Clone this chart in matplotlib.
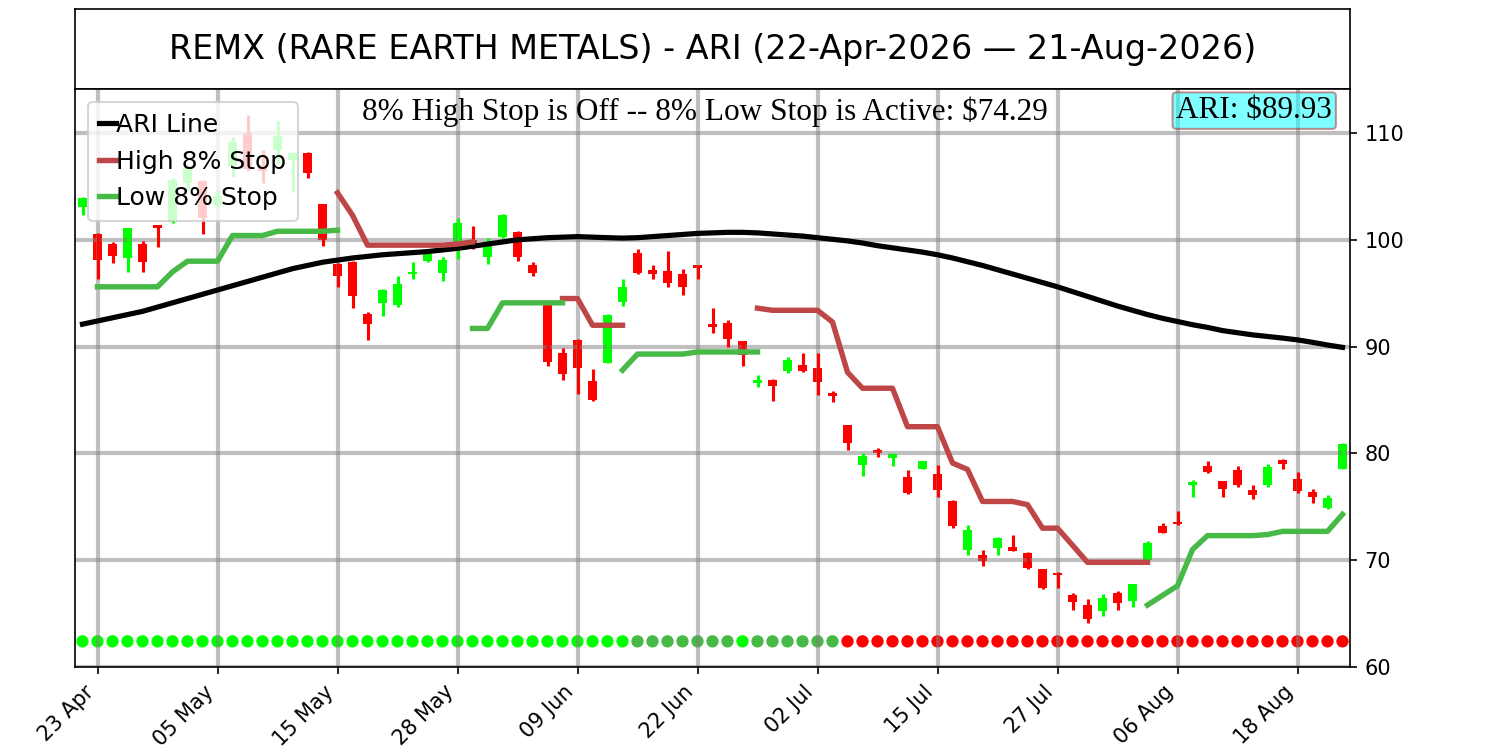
import numpy as np
import pandas as pd
import matplotlib
matplotlib.use('Agg')
import matplotlib.pyplot as plt

nan = np.nan

"""
Data read off the reference chart (one value per trading day)
"""
holidays = ['2026-05-25', '2026-06-19', '2026-07-03']
dates = pd.bdate_range('2026-04-22', '2026-08-21', freq='C', holidays=holidays)

opens = [103.1, 100.5, 99.6, 98.3, 99.6, 101.4, 101.7, 105.3, 105.5, 103.3,
         106.9, 110.0, 107.0, 108.4, 107.5, 108.1, 103.4, 97.7, 97.9, 93.1,
         94.1, 93.9, 96.8, 98.0, 96.9, 99.8, 100.0, 98.4, 100.3, 100.7,
         97.6, 94.1, 89.4, 90.6, 86.8, 88.5, 94.2, 98.8, 97.2, 97.1,
         96.8, 97.6, 92.1, 92.2, 90.5, 86.6, 86.9, 87.7, 88.3, 88.0,
         85.7, 82.7, 78.9, 80.3, 79.6, 77.8, 78.5, 78.1, 75.5, 71.0,
         70.5, 71.1, 71.2, 70.7, 69.2, 68.8, 66.7, 65.8, 65.2, 66.9,
         66.2, 70.0, 73.2, 73.6, 77.0, 78.8, 77.4, 78.4, 76.6, 77.0,
         79.4, 77.6, 76.4, 74.9, 78.5]
highs = [104.0, 100.6, 99.8, 101.1, 99.9, 101.4, 105.8, 107.0, 105.6, 104.7,
         109.6, 111.7, 108.4, 111.1, 108.2, 108.2, 103.4, 97.8, 98.0, 93.2,
         95.4, 96.6, 97.9, 99.1, 98.4, 102.0, 101.3, 100.2, 102.4, 100.8,
         97.9, 94.2, 89.9, 90.7, 87.9, 93.1, 96.3, 99.1, 97.6, 99.0,
         97.3, 97.6, 93.6, 92.5, 90.5, 87.3, 87.0, 89.0, 89.4, 89.4,
         85.8, 82.7, 80.0, 80.5, 80.0, 78.4, 79.3, 78.9, 75.6, 73.3,
         71.0, 72.2, 72.4, 70.8, 69.2, 68.9, 66.9, 66.4, 66.8, 67.1,
         67.8, 71.8, 73.5, 74.6, 77.5, 79.3, 77.4, 78.8, 77.0, 79.0,
         79.5, 78.3, 76.7, 76.1, 81.0]
lows = [102.3, 96.3, 97.8, 97.0, 97.0, 99.3, 101.6, 104.7, 100.5, 103.1,
        105.9, 106.4, 105.3, 107.2, 104.5, 105.8, 99.4, 95.6, 93.6, 90.6,
        92.9, 93.7, 96.3, 97.9, 96.1, 98.2, 99.1, 97.7, 100.2, 98.0,
        96.6, 88.2, 86.9, 85.6, 84.9, 88.5, 93.8, 96.8, 96.3, 95.6,
        94.8, 96.3, 91.3, 90.0, 88.2, 86.2, 84.9, 87.5, 87.6, 85.5,
        84.8, 80.3, 77.9, 79.7, 78.8, 76.2, 78.5, 75.9, 73.0, 70.5,
        69.5, 70.5, 70.9, 69.2, 67.3, 67.4, 65.3, 64.1, 64.8, 65.3,
        65.6, 69.9, 72.5, 73.3, 75.9, 78.2, 75.9, 76.9, 75.7, 76.9,
        78.5, 76.3, 75.4, 74.8, 78.5]
closes = [103.9, 98.1, 98.5, 101.1, 97.9, 101.1, 105.6, 106.7, 102.0, 104.1,
          109.2, 106.6, 106.4, 109.7, 108.1, 106.3, 100.0, 96.6, 94.7, 92.1,
          95.3, 95.9, 97.0, 98.7, 98.1, 101.6, 99.3, 99.4, 102.3, 98.4,
          96.9, 88.6, 87.4, 88.0, 85.0, 93.0, 95.6, 96.9, 96.8, 96.0,
          95.6, 97.4, 91.8, 90.7, 89.2, 86.9, 86.3, 88.7, 87.7, 86.7,
          85.4, 81.0, 79.8, 80.0, 79.9, 76.3, 79.3, 76.6, 73.2, 72.8,
          69.9, 72.1, 70.9, 69.3, 67.4, 68.6, 66.1, 64.5, 66.5, 66.0,
          67.8, 71.6, 72.5, 73.4, 77.3, 78.3, 76.7, 77.0, 76.1, 78.7,
          79.0, 76.5, 75.9, 75.8, 80.9]

ari_line = [92.1, 92.4, 92.7, 93.0, 93.3, 93.7, 94.1, 94.5, 94.9, 95.3,
            95.7, 96.1, 96.5, 96.9, 97.3, 97.6, 97.9, 98.1, 98.3, 98.45,
            98.6, 98.7, 98.8, 98.9, 99.05, 99.2, 99.4, 99.6, 99.8, 100.0,
            100.1, 100.2, 100.25, 100.3, 100.25, 100.2, 100.16, 100.2, 100.3, 100.4,
            100.5, 100.6, 100.65, 100.7, 100.7, 100.65, 100.55, 100.45, 100.35, 100.2,
            100.05, 99.9, 99.7, 99.45, 99.25, 99.05, 98.85, 98.6, 98.3, 97.95,
            97.6, 97.2, 96.8, 96.4, 96.0, 95.6, 95.15, 94.7, 94.25, 93.8,
            93.4, 93.0, 92.65, 92.35, 92.05, 91.8, 91.5, 91.3, 91.1, 90.95,
            90.8, 90.63, 90.4, 90.15, 89.93]

high_stop = [nan, nan, nan, nan, nan, nan, nan, nan, nan, nan,
             nan, nan, nan, nan, nan, nan, nan, 104.4, 102.3, 99.5,
             99.5, 99.5, 99.5, 99.5, 99.5, 99.6, 99.8, nan, nan, nan,
             nan, nan, 94.5, 94.5, 92.0, 92.0, 92.0, nan, nan, nan,
             nan, nan, nan, nan, nan, 93.6, 93.4, 93.4, 93.4, 93.4,
             92.3, 87.6, 86.1, 86.1, 86.1, 82.5, 82.5, 82.5, 79.1, 78.5,
             75.5, 75.5, 75.5, 75.2, 73.0, 73.0, 71.4, 69.8, 69.8, 69.8,
             69.8, 69.8, nan, nan, nan, nan, nan, nan, nan, nan,
             nan, nan, nan, nan, nan]
low_stop = [nan, 95.6, 95.6, 95.6, 95.6, 95.6, 97.0, 98.0, 98.0, 98.0,
            100.4, 100.4, 100.4, 100.8, 100.8, 100.8, 100.8, 100.9, nan, nan,
            nan, nan, nan, nan, nan, nan, 91.7, 91.7, 94.1, 94.1,
            94.1, 94.1, 94.1, nan, nan, nan, 87.8, 89.3, 89.3, 89.3,
            89.3, 89.5, 89.5, 89.5, 89.5, 89.5, nan, nan, nan, nan,
            nan, nan, nan, nan, nan, nan, nan, nan, nan, nan,
            nan, nan, nan, nan, nan, nan, nan, nan, nan, nan,
            nan, 65.8, 66.7, 67.6, 71.0, 72.3, 72.3, 72.3, 72.3, 72.4,
            72.7, 72.7, 72.7, 72.7, 74.29]

# 2 = bullish, 1 = neutral, 0 = bearish
signal = [2, 2, 2, 2, 2, 2, 2, 2, 2, 2, 2, 2, 2, 2, 2, 2, 2, 2, 2, 2,
          2, 2, 2, 2, 2, 2, 2, 2, 2, 2, 2, 2, 2, 2, 2, 2, 2, 1, 1, 1,
          1, 1, 1, 1, 2, 1, 1, 1, 1, 1, 1, 0, 0, 0, 0, 0, 0, 0, 0, 0,
          0, 0, 0, 0, 0, 0, 0, 0, 0, 0, 0, 0, 0, 0, 0, 0, 0, 0, 0, 0,
          0, 0, 0, 0, 0]

title = 'REMX (RARE EARTH METALS) - ARI (22-Apr-2026 \u2014 21-Aug-2026)'
status_text = r'8% High Stop is Off -- 8% Low Stop is Active: \$74.29'
ari_text = r'ARI: \$89.93'

"""
Figure
"""
high_col = '#bf4646'
low_col = '#46b946'
sig_colors = {0: '#ff0000', 1: low_col, 2: '#00ff00'}

fig = plt.figure(figsize=(10, 5), dpi=150)
ax_t = fig.add_axes([0.05, 0.881, 0.85, 0.107])
ax_t.set_xticks([])
ax_t.set_yticks([])
ax_t.text(0.5, 0.5, title, fontsize=16, ha='center', va='center',
          transform=ax_t.transAxes)

ax = fig.add_axes([0.05, 0.1107, 0.85, 0.7703])
x = np.arange(len(dates))
o = np.array(opens)
c = np.array(closes)
up = c >= o
cols = np.where(up, '#00ff00', '#ff0000')

ax.bar(x, np.abs(c - o), bottom=np.minimum(o, c), width=0.62, color=cols)
ax.vlines(x, lows, highs, colors=cols, linewidth=1.5)

ax.scatter(x, np.full(len(x), 62.4), s=24, c=[sig_colors[s] for s in signal])

ax.plot(x, ari_line, color='black', linewidth=2.5, label='ARI Line')
ax.plot(x, high_stop, color=high_col, linewidth=2.6, label='High 8% Stop')
ax.plot(x, low_stop, color=low_col, linewidth=2.6, label='Low 8% Stop')

ax.set_xlim(-0.5, len(x) - 0.5)
ax.set_ylim(60, 114.1)
ax.set_yticks([60, 70, 80, 90, 100, 110])
ax.yaxis.tick_right()
tick_pos = x[1::8]
ax.set_xticks(tick_pos)
ax.set_xticklabels([d.strftime('%d %b') for d in dates[1::8]], rotation=45, ha='right')
ax.grid(True, color='gray', alpha=0.5, linewidth=2)

ax.legend(loc='upper left', fontsize=12, handlelength=0.7, handletextpad=0.0,
          labelspacing=0.5, borderpad=0.45)

ax.text(0.494, 0.947, status_text, transform=ax.transAxes, fontsize=15,
        family='Liberation Serif', ha='center', va='baseline')
ax.text(0.986, 0.95, ari_text, transform=ax.transAxes, fontsize=15,
        family='Liberation Serif', ha='right', va='baseline',
        bbox=dict(boxstyle='round,pad=0.12', facecolor='cyan', edgecolor='brown', alpha=0.5))

plt.savefig('out.png', dpi=150)
